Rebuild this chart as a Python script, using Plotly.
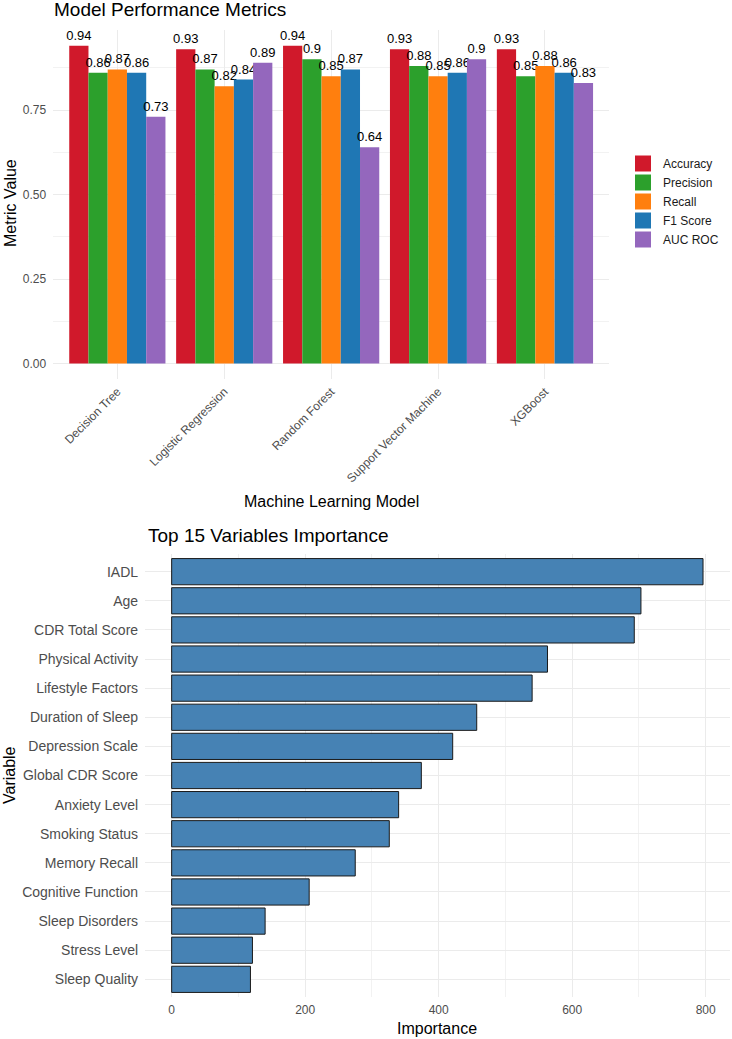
import plotly.graph_objects as go

# ---------------- data ----------------
models = ["Decision Tree", "Logistic Regression", "Random Forest",
          "Support Vector Machine", "XGBoost"]
metric_names = ["Accuracy", "Precision", "Recall", "F1 Score", "AUC ROC"]
accuracy = [0.94, 0.93, 0.94, 0.93, 0.93]
precision = [0.86, 0.87, 0.90, 0.88, 0.85]
recall = [0.87, 0.82, 0.85, 0.85, 0.88]
f1_score = [0.86, 0.84, 0.87, 0.86, 0.86]
auc_roc = [0.73, 0.89, 0.64, 0.90, 0.83]
metric_colors = ["#D0192B", "#2CA02C", "#FF7F0E", "#1F77B4", "#9467BD"]

variables = ["IADL", "Age", "CDR Total Score", "Physical Activity",
             "Lifestyle Factors", "Duration of Sleep", "Depression Scale",
             "Global CDR Score", "Anxiety Level", "Smoking Status",
             "Memory Recall", "Cognitive Function", "Sleep Disorders",
             "Stress Level", "Sleep Quality"]
importance = [796, 703, 693, 563, 540, 457, 421, 374, 340, 326,
              275, 206, 140, 121, 118]

FONT = "Liberation Sans, Arial, sans-serif"
GRID = "#EBEBEB"
MINOR = "#F2F2F2"
TICKC = "#4D4D4D"

W, H = 732, 1039

def px_x(v):
    return v / W

def px_y(v):
    return 1 - v / H

fig = go.Figure()

series = [accuracy, precision, recall, f1_score, auc_roc]
for name, vals, col in zip(metric_names, series, metric_colors):
    fig.add_trace(go.Bar(
        x=models, y=vals, name=name, marker=dict(color=col, line=dict(width=0)),
        text=[str(v) for v in vals], textposition="outside",
        textfont=dict(size=13, color="#000000", family=FONT),
        constraintext="none", cliponaxis=False, showlegend=False,
        xaxis="x", yaxis="y"))
    # legend entry with a larger square key
    fig.add_trace(go.Scatter(
        x=[None], y=[None], mode="markers", name=name,
        marker=dict(symbol="square", size=16, color=col),
        showlegend=True, xaxis="x", yaxis="y"))

# bottom chart: order bottom -> top
fig.add_trace(go.Bar(
    x=importance[::-1], y=variables[::-1], orientation="h",
    marker=dict(color="#4682B4", line=dict(color="#1a1a1a", width=1)),
    showlegend=False, xaxis="x2", yaxis="y2"))

fig.update_layout(
    width=W, height=H,
    margin=dict(l=0, r=0, t=0, b=0),
    paper_bgcolor="white", plot_bgcolor="white",
    font=dict(family=FONT, size=12, color=TICKC),
    barmode="group", bargap=0.1, bargroupgap=0,
    xaxis=dict(
        domain=[px_x(53.2), px_x(609.1)], anchor="y",
        type="category", range=[-0.6, 4.6],
        tickangle=-45, showgrid=True, gridcolor=GRID, gridwidth=1,
        zeroline=False, showline=False, ticks="",
        tickfont=dict(size=12, color=TICKC), ticklabelstandoff=2,
    ),
    yaxis=dict(
        domain=[px_y(379.4), px_y(29.9)], anchor="x",
        range=[-0.047, 0.987], tickmode="linear", tick0=0, dtick=0.25,
        tickformat=".2f", showgrid=True, gridcolor=GRID, gridwidth=1,
        minor=dict(showgrid=True, gridcolor=MINOR, gridwidth=1, dtick=0.125, tick0=0),
        zeroline=False, showline=False, ticks="",
        tickfont=dict(size=12, color=TICKC), ticklabelstandoff=6,
    ),
    xaxis2=dict(
        domain=[px_x(145.1), px_x(729.6)], anchor="y2",
        range=[-39.8, 835.8], tickmode="linear", tick0=0, dtick=200,
        showgrid=True, gridcolor=GRID, gridwidth=1,
        minor=dict(showgrid=True, gridcolor=MINOR, gridwidth=1, dtick=100, tick0=0),
        zeroline=False, showline=False, ticks="",
        tickfont=dict(size=12, color=TICKC), ticklabelstandoff=4,
    ),
    yaxis2=dict(
        domain=[px_y(996.8), px_y(554.2)], anchor="x2",
        type="category", range=[-0.6, 14.6],
        showgrid=True, gridcolor=GRID, gridwidth=1,
        zeroline=False, showline=False, ticks="",
        tickfont=dict(size=14, color=TICKC), ticklabelstandoff=6,
    ),
    legend=dict(
        x=px_x(623), y=px_y(149), xanchor="left", yanchor="top",
        font=dict(size=12, color="#1a1a1a", family=FONT),
        bgcolor="rgba(0,0,0,0)", itemsizing="trace",
        tracegroupgap=0,
    ),
    annotations=[
        dict(text="Model Performance Metrics", x=px_x(52), y=px_y(10),
             xref="paper", yref="paper", xanchor="left", yanchor="middle",
             showarrow=False, font=dict(size=19, color="#000000", family=FONT)),
        dict(text="Metric Value", x=px_x(10), y=px_y(203),
             xref="paper", yref="paper", xanchor="center", yanchor="middle",
             textangle=-90, showarrow=False,
             font=dict(size=16, color="#000000", family=FONT)),
        dict(text="Machine Learning Model", x=px_x(331), y=px_y(501),
             xref="paper", yref="paper", xanchor="center", yanchor="middle",
             showarrow=False, font=dict(size=16, color="#000000", family=FONT)),
        dict(text="Top 15 Variables Importance", x=px_x(145.5), y=px_y(535),
             xref="paper", yref="paper", xanchor="left", yanchor="middle",
             showarrow=False, font=dict(size=19, color="#000000", family=FONT)),
        dict(text="Variable", x=px_x(9), y=px_y(775),
             xref="paper", yref="paper", xanchor="center", yanchor="middle",
             textangle=-90, showarrow=False,
             font=dict(size=16, color="#000000", family=FONT)),
        dict(text="Importance", x=px_x(437), y=px_y(1028),
             xref="paper", yref="paper", xanchor="center", yanchor="middle",
             showarrow=False, font=dict(size=16, color="#000000", family=FONT)),
    ],
)

fig.write_html("out.html")
